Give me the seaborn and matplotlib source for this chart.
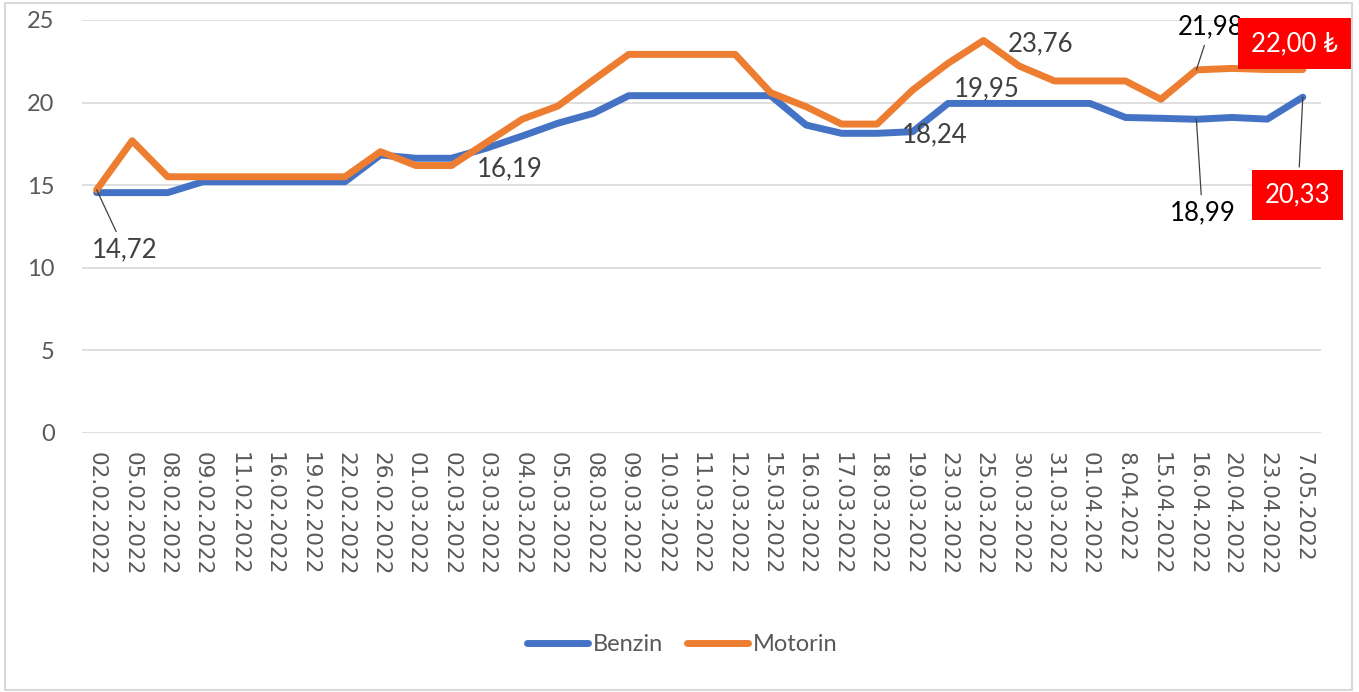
import pandas as pd
import matplotlib.pyplot as plt
import seaborn as sns
from matplotlib.patches import Rectangle

# akaryakit fiyatlari (TL / litre)
tarihler = [
    "02.02.2022", "05.02.2022", "08.02.2022", "09.02.2022", "11.02.2022",
    "16.02.2022", "19.02.2022", "22.02.2022", "26.02.2022", "01.03.2022",
    "02.03.2022", "03.03.2022", "04.03.2022", "05.03.2022", "08.03.2022",
    "09.03.2022", "10.03.2022", "11.03.2022", "12.03.2022", "15.03.2022",
    "16.03.2022", "17.03.2022", "18.03.2022", "19.03.2022", "23.03.2022",
    "25.03.2022", "30.03.2022", "31.03.2022", "01.04.2022", "8.04.2022",
    "15.04.2022", "16.04.2022", "20.04.2022", "23.04.2022", "7.05.2022",
]
benzin = [
    14.55, 14.55, 14.55, 15.21, 15.21, 15.21, 15.21, 15.21, 16.83, 16.63,
    16.63, 17.25, 17.98, 18.75, 19.35, 20.42, 20.42, 20.42, 20.42, 20.42,
    18.64, 18.14, 18.14, 18.24, 19.95, 19.95, 19.95, 19.95, 19.95, 19.10,
    19.05, 18.99, 19.10, 19.00, 20.33,
]
motorin = [
    14.72, 17.69, 15.51, 15.51, 15.51, 15.51, 15.51, 15.51, 17.03, 16.19,
    16.19, 17.60, 19.00, 19.79, 21.37, 22.92, 22.92, 22.92, 22.92, 20.60,
    19.75, 18.70, 18.70, 20.76, 22.38, 23.76, 22.22, 21.31, 21.31, 21.31,
    20.20, 21.98, 22.07, 22.00, 22.00,
]
seriler = ["Benzin", "Motorin"]
renkler = ["#4472C4", "#ED7D31"]

df = pd.DataFrame({
    "Tarih": tarihler * 2,
    "Fiyat": benzin + motorin,
    "Yakit": ["Benzin"] * len(tarihler) + ["Motorin"] * len(tarihler),
})

sns.set_style("white")
plt.rcParams["font.family"] = ["Lato", "DejaVu Sans"]

fig = plt.figure(figsize=(13.59, 6.92), dpi=100)
ax = fig.add_axes([0.0607, 0.3743, 0.9110, 0.5968])

sns.lineplot(
    data=df, x="Tarih", y="Fiyat", hue="Yakit", hue_order=seriler,
    palette=renkler, linewidth=5, sort=False, ax=ax,
    solid_joinstyle="round", solid_capstyle="round",
)

ax.set_xlim(-0.4, 34.5)
ax.set_ylim(0, 25)
ax.set_yticks([0, 5, 10, 15, 20, 25])
ax.grid(axis="y", color="#D9D9D9", linewidth=1.2)
ax.grid(axis="x", visible=False)
ax.set_axisbelow(True)
for s in ax.spines.values():
    s.set_visible(False)
ax.set_xlabel("")
ax.set_ylabel("")
ax.set_xticks(range(len(tarihler)))
ax.set_xticklabels(tarihler, rotation=-90, fontsize=15.5, family="DejaVu Sans",
                   color="#595959")
ax.tick_params(axis="x", length=0, pad=14)
ax.tick_params(axis="y", length=0, pad=20, labelsize=17, labelcolor="#595959")

# legend altta ortada
handles, labels = ax.get_legend_handles_labels()
ax.legend_.remove()
leg = fig.legend(handles, labels, loc="center", bbox_to_anchor=(0.502, 0.068),
                 ncol=2, frameon=False, fontsize=17, handlelength=2.6,
                 handletextpad=0.2, columnspacing=1.0)
for t in leg.get_texts():
    t.set_color("#595959")
for h in leg.get_lines():
    h.set_linewidth(5)
    h.set_solid_capstyle("round")

# veri etiketleri
gri = "#404040"
cizgi = dict(arrowstyle="-", color="#404040", lw=0.9, shrinkA=2, shrinkB=0)


def etiket(seri, i, metin, dx, dy, renk=gri, ok=False, kutu=False):
    y = benzin[i] if seri == "Benzin" else motorin[i]
    kw = {}
    if ok:
        kw["arrowprops"] = cizgi
    if kutu:
        kw["bbox"] = dict(boxstyle="square,pad=0.5", fc="#FF0000", ec="none")
    ax.annotate(metin, xy=(i, y), xytext=(dx, dy), textcoords="offset pixels",
                ha="center", va="center", fontsize=18.5, color=renk,
                annotation_clip=False, **kw)


etiket("Motorin", 0, "14,72", 28, -60, ok=True)
etiket("Motorin", 10, "16,19", 58, -3)
etiket("Benzin", 23, "18,24", 22, -3)
etiket("Benzin", 24, "19,95", 39, 15)
etiket("Motorin", 25, "23,76", 57, -3)
etiket("Motorin", 31, "21,98", 14, 43, renk="black", ok=True)
etiket("Benzin", 31, "18,99", 6, -94, renk="black", ok=True)
etiket("Benzin", 34, "20,33", -5, -98, renk="white", ok=True, kutu=True)
etiket("Motorin", 34, "22,00 ₺", -8, 26, renk="white", kutu=True)

# dis cerceve
fig.patches.append(Rectangle((5 / 1359, 2 / 692), 1347 / 1359, 687 / 692,
                             transform=fig.transFigure, fill=False,
                             ec="#D9D9D9", lw=1.5))

plt.savefig("out.png", dpi=100)
plt.close()
